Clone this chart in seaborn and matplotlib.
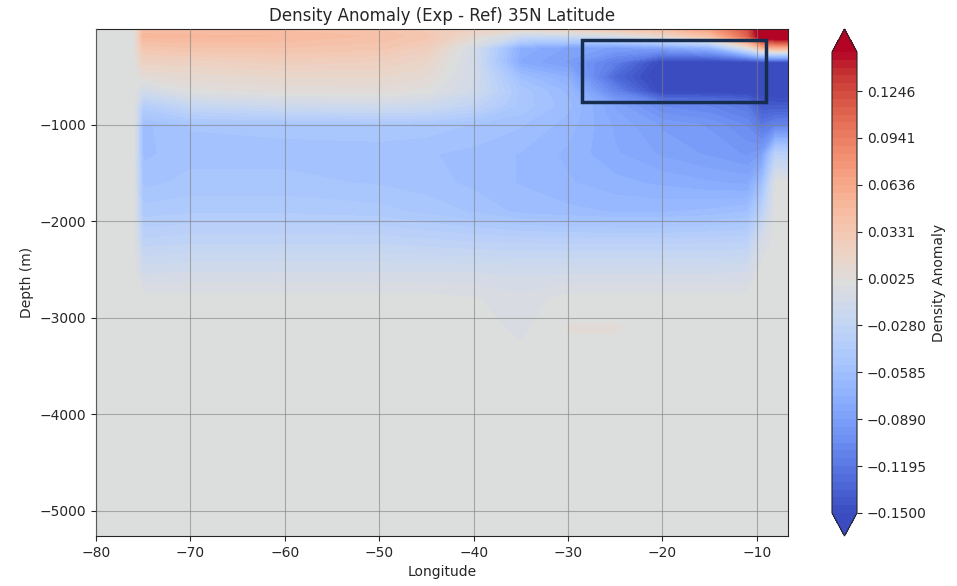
import numpy as np
import matplotlib.pyplot as plt
import seaborn as sns
from matplotlib.patches import Rectangle

sns.set_style("ticks")

# grid (lon in deg E, depth in m)
lons = [-80, -76, -75, -70, -60, -50, -45, -40, -35, -30, -25, -20, -15, -11, -9.5, -8, -6.7]
depths = [-5, -80, -200, -350, -500, -650, -800, -1000, -1300, -1600, -1900,
          -2200, -2500, -2800, -3100, -3500, -5260]

# density anomaly, one row per depth level
anomaly = [
    [0, 0, 0.045, 0.042, 0.042, 0.038, 0.03, 0.02, 0.015, 0.025, 0.035, 0.045, 0.07, 0.12, 0.17, 0.18, 0.18],
    [0, 0, 0.05, 0.05, 0.048, 0.042, 0.035, 0.01, -0.02, -0.02, -0.01, 0.01, 0.04, 0.11, 0.17, 0.18, 0.18],
    [0, 0, 0.035, 0.038, 0.038, 0.035, 0.025, -0.01, -0.075, -0.085, -0.09, -0.085, -0.07, 0.0, 0.05, 0.06, 0.06],
    [0, 0, 0.02, 0.02, 0.025, 0.022, 0.015, -0.012, -0.08, -0.09, -0.115, -0.155, -0.155, -0.155, -0.15, -0.15, -0.15],
    [0, 0, 0.006, 0.01, 0.013, 0.013, 0.008, -0.012, -0.06, -0.075, -0.13, -0.16, -0.165, -0.165, -0.16, -0.16, -0.16],
    [0, 0, -0.015, 0.0, 0.004, 0.005, 0.0, -0.015, -0.05, -0.065, -0.11, -0.155, -0.155, -0.155, -0.155, -0.16, -0.16],
    [0, 0, -0.04, -0.025, -0.018, -0.015, -0.018, -0.03, -0.05, -0.062, -0.085, -0.105, -0.11, -0.12, -0.14, -0.14, -0.14],
    [0, 0, -0.06, -0.053, -0.052, -0.05, -0.05, -0.054, -0.058, -0.066, -0.08, -0.09, -0.095, -0.105, -0.12, -0.11, -0.11],
    [0, 0, -0.06, -0.055, -0.055, -0.056, -0.058, -0.06, -0.064, -0.07, -0.078, -0.085, -0.09, -0.095, -0.09, -0.035, -0.035],
    [0, 0, -0.055, -0.052, -0.052, -0.054, -0.056, -0.06, -0.064, -0.068, -0.072, -0.075, -0.078, -0.08, -0.06, 0, 0],
    [0, 0, -0.046, -0.044, -0.044, -0.046, -0.05, -0.054, -0.06, -0.062, -0.064, -0.064, -0.062, -0.058, -0.035, 0, 0],
    [0, 0, -0.032, -0.03, -0.03, -0.03, -0.032, -0.034, -0.035, -0.036, -0.036, -0.036, -0.035, -0.034, -0.01, 0, 0],
    [0, 0, -0.015, -0.014, -0.014, -0.014, -0.014, -0.014, -0.015, -0.015, -0.015, -0.015, -0.015, -0.014, 0, 0, 0],
    [0, 0, 0, 0, 0, 0, 0, -0.002, -0.006, 0.0, 0.0, 0, 0, 0, 0, 0, 0],
    [0, 0, 0, 0, 0, 0, 0, 0, -0.004, 0.003, 0.003, 0, 0, 0, 0, 0, 0],
    [0] * 17,
    [0] * 17,
]

# highlighted region
box_lons = (-28.5, -9.0)
box_depths = (-760, -120)

levels = np.linspace(-0.15, 0.15, 60)
cmap = sns.color_palette("coolwarm", as_cmap=True)

fig = plt.figure(figsize=(9.57, 5.86), dpi=100)
ax = fig.add_axes([96 / 957, 50 / 586, 692 / 957, 507 / 586])
cax = fig.add_axes([832 / 957, 50 / 586, 25 / 957, 507 / 586])

cf = ax.contourf(lons, depths, np.array(anomaly), levels=levels, cmap=cmap, extend="both")
cb = fig.colorbar(cf, cax=cax)
cb.set_label("Density Anomaly")

ax.add_patch(Rectangle((box_lons[0], box_depths[0]),
                       box_lons[1] - box_lons[0], box_depths[1] - box_depths[0],
                       fill=False, edgecolor="#172d50", linewidth=2.5, zorder=5))

ax.set_axisbelow(False)
ax.grid(True, color="grey", alpha=0.6, linewidth=0.8)
ax.set_title("Density Anomaly (Exp - Ref) 35N Latitude", fontsize=12)
ax.set_xlabel("Longitude")
ax.set_ylabel("Depth (m)")

fig.savefig("out.png", dpi=100)
plt.close()
